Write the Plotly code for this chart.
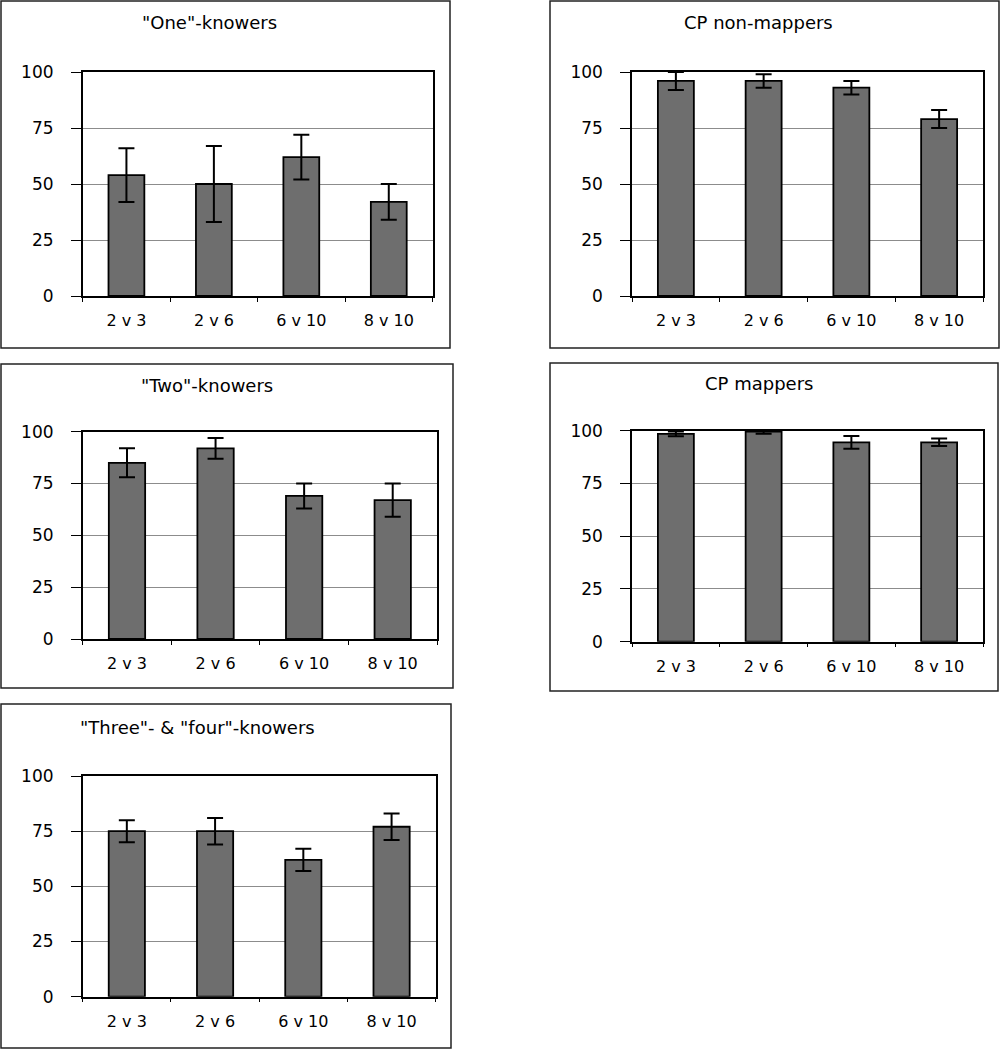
import plotly.graph_objects as go

categories = ["2 v 3", "2 v 6", "6 v 10", "8 v 10"]
titles = ['"One"-knowers', 'CP non-mappers', '"Two"-knowers', 'CP mappers', '"Three"- & "four"-knowers']
one_vals = [54, 50, 62, 42]
one_err = [12, 17, 10, 8]
cpnon_vals = [96, 96, 93, 79]
cpnon_err = [4, 3, 3, 4]
two_vals = [85, 92, 69, 67]
two_err = [7, 5, 6, 8]
cpmap_vals = [98.5, 99.6, 94.5, 94.5]
cpmap_err = [1.1, 1.0, 3.0, 1.8]
three_vals = [75, 75, 62, 77]
three_err = [5, 6, 5, 6]
y_ticks = [0, 25, 50, 75, 100]

series = [(one_vals, one_err), (cpnon_vals, cpnon_err), (two_vals, two_err),
          (cpmap_vals, cpmap_err), (three_vals, three_err)]

W, H = 1000, 1050
# plot areas in pixels: x0, x1, y0(top), y1(bottom)
plots = [(82.7, 432.5, 72, 296), (632, 983, 72, 296), (82.7, 437, 431.7, 639),
         (632, 983, 430.7, 641.7), (82.7, 435.7, 776, 996.7)]
boxes = [(1, 450, 1, 348), (550, 999, 1, 348), (1, 453, 364, 688),
         (550, 998, 363, 691), (1, 451, 704, 1048)]
title_pos = [(209, 23), (758, 23), (207, 385), (759, 384), (197, 727)]

font = "DejaVu Sans"
fig = go.Figure()
layout = dict(width=W, height=H, margin=dict(l=0, r=0, t=0, b=0, pad=0, autoexpand=False),
              paper_bgcolor="white", plot_bgcolor="white", showlegend=False,
              font=dict(family=font, color="black"))
shapes = []
annotations = []
for i, ((vals, errs), (x0, x1, y0, y1)) in enumerate(zip(series, plots)):
    n = i + 1
    xa = "x" if n == 1 else f"x{n}"
    ya = "y" if n == 1 else f"y{n}"
    fig.add_trace(go.Bar(
        x=categories, y=vals, xaxis=xa, yaxis=ya, width=0.41,
        marker=dict(color="#6e6e6e", line=dict(color="black", width=1.8)),
        error_y=dict(type="data", array=errs, visible=True, color="black",
                     thickness=2, width=8),
    ))
    layout[f"xaxis{'' if n == 1 else n}"] = dict(
        domain=[x0 / W, x1 / W], anchor=ya, type="category", range=[-0.5, 3.5],
        showline=True, linecolor="black", linewidth=1.5, mirror=True,
        ticks="outside", tickson="boundaries", ticklen=4, tickcolor="black",
        tickfont=dict(family=font, size=16), showgrid=False,
        ticklabelstandoff=9, fixedrange=True)
    layout[f"yaxis{'' if n == 1 else n}"] = dict(
        domain=[1 - y1 / H, 1 - y0 / H], anchor=xa, range=[0, 100],
        tickvals=y_ticks, showline=True, linecolor="black", linewidth=1.5,
        mirror=True, ticks="outside", ticklen=10, tickcolor="black",
        showgrid=True, gridcolor="#8c8c8c", gridwidth=1, zeroline=False,
        tickfont=dict(family=font, size=17), ticklabelstandoff=14,
        fixedrange=True)
    bx0, bx1, by0, by1 = boxes[i]
    shapes.append(dict(type="rect", xref="paper", yref="paper",
                       x0=bx0 / W, x1=bx1 / W, y0=1 - by1 / H, y1=1 - by0 / H,
                       line=dict(color="#222222", width=1.5), layer="below"))
    tx, ty = title_pos[i]
    annotations.append(dict(text=titles[i], xref="paper", yref="paper",
                            x=tx / W, y=1 - ty / H, xanchor="center", yanchor="middle",
                            showarrow=False, font=dict(family=font, size=18)))
layout["shapes"] = shapes
layout["annotations"] = annotations
fig.update_layout(**layout)
fig.write_html("out.html", config={"displayModeBar": False},
               post_script="document.body.style.margin='0';document.body.style.overflow='hidden';")
